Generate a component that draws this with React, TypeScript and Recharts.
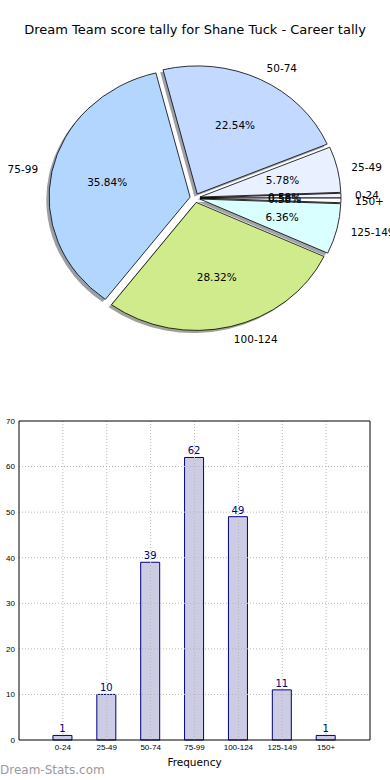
import React from 'react';
import {
  PieChart, Pie, Cell, BarChart, Bar, XAxis, YAxis, ReferenceLine, LabelList,
} from 'recharts';

const categories = ['0-24', '25-49', '50-74', '75-99', '100-124', '125-149', '150+'];
const counts = [1, 10, 39, 62, 49, 11, 1];
const sliceColors = ['#f2f2ff', '#e9f0ff', '#c4d9ff', '#b3d6ff', '#d0eb8c', '#d9ffff', '#ffffff'];
const positions = [1, 2, 3, 4, 5, 6, 7];
const yTicks = [0, 10, 20, 30, 40, 50, 60, 70];
const gridY = [10, 20, 30, 40, 50, 60];

const title = 'Dream Team score tally for Shane Tuck - Career tally';

const pieData = categories.map((name, i) => ({ name, value: counts[i], color: sliceColors[i] }));
const barData = categories.map((name, i) => ({ name, pos: positions[i], count: counts[i] }));

const RY = 0.908;
const EXPLODE = 5;
const RAD = Math.PI / 180;
const PIE_FONT = '"DejaVu Sans", sans-serif';

function wedgePath(p: any, shiftX: number, shiftY: number) {
  const { cx, cy, outerRadius, startAngle, endAngle } = p;
  const mid = (startAngle + endAngle) / 2;
  const ox = EXPLODE * Math.cos(mid * RAD) + shiftX;
  const oy = -EXPLODE * RY * Math.sin(mid * RAD) + shiftY;
  const r = outerRadius;
  const pt = (a: number) => [cx + ox + r * Math.cos(a * RAD), cy + oy - r * RY * Math.sin(a * RAD)];
  const [sx, sy] = pt(startAngle);
  const [ex, ey] = pt(endAngle);
  const large = Math.abs(endAngle - startAngle) > 180 ? 1 : 0;
  return `M${cx + ox},${cy + oy} L${sx},${sy} A${r},${r * RY} 0 ${large} 0 ${ex},${ey} Z`;
}

function darken(hex: string) {
  const n = parseInt(hex.slice(1), 16);
  const r = Math.round(((n >> 16) & 255) * 0.3);
  const g = Math.round(((n >> 8) & 255) * 0.3);
  const b = Math.round((n & 255) * 0.3);
  return `rgb(${r},${g},${b})`;
}

const ShadowShape = (p: any) => {
  const color = (p.payload && p.payload.color) || '#cccccc';
  return <path d={wedgePath(p, -2.8, 2.6)} fill={darken(color)} fillOpacity={0.5} stroke="none" />;
};

const WedgeShape = (p: any) => {
  const color = (p.payload && p.payload.color) || p.fill;
  return <path d={wedgePath(p, 0, 0)} fill={color} stroke="#000" strokeWidth={0.8} />;
};

const renderPieLabel = (p: any) => {
  const { cx, cy, outerRadius, midAngle, percent, name } = p;
  const r = outerRadius;
  const c = Math.cos(midAngle * RAD);
  const s = Math.sin(midAngle * RAD);
  const ox = EXPLODE * c;
  const oy = -EXPLODE * RY * s;
  const lx = cx + ox + 1.1 * r * c;
  const ly = cy + oy - 1.1 * r * RY * s;
  const px = cx + ox + 0.6 * r * c;
  const py = cy + oy - 0.6 * r * RY * s;
  return (
    <g>
      <text x={lx} y={ly} textAnchor={c > 0 ? 'start' : 'end'} dominantBaseline="central"
        fontSize={10.5} fontFamily={PIE_FONT} fill="#000">{name}</text>
      <text x={px} y={py} textAnchor="middle" dominantBaseline="central"
        fontSize={10.5} fontFamily={PIE_FONT} fill="#000">{(percent * 100).toFixed(2) + '%'}</text>
    </g>
  );
};

const SMALL_FONT = '"Liberation Sans Narrow", "Liberation Sans", sans-serif';

export default function App() {
  return (
    <div style={{ position: 'absolute', left: 0, top: 0, width: 390, height: 780, background: '#fff' }}>
      <div style={{
        position: 'absolute', left: 0, top: 21, width: 390, textAlign: 'center',
        fontFamily: PIE_FONT, fontSize: 13, color: '#000', lineHeight: '18px',
      }}>{title}</div>
      <div style={{ position: 'absolute', left: 0, top: 0 }}>
        <PieChart width={390} height={400} margin={{ top: 0, right: 0, bottom: 0, left: 0 }}>
          <Pie data={pieData} dataKey="value" nameKey="name" cx={195} cy={198} outerRadius={141}
            startAngle={0} endAngle={360} isAnimationActive={false} shape={ShadowShape}
            stroke="none" labelLine={false}>
            {pieData.map((d, i) => <Cell key={i} fill={d.color} />)}
          </Pie>
          <Pie data={pieData} dataKey="value" nameKey="name" cx={195} cy={198} outerRadius={141}
            startAngle={0} endAngle={360} isAnimationActive={false} shape={WedgeShape}
            labelLine={false} label={renderPieLabel}>
            {pieData.map((d, i) => <Cell key={i} fill={d.color} />)}
          </Pie>
        </PieChart>
      </div>
      <div style={{ position: 'absolute', left: 0, top: 410 }}>
        <BarChart width={390} height={370} data={barData}
          margin={{ top: 11, right: 20, bottom: 0, left: 0 }}>
          <XAxis dataKey="pos" type="number" domain={[0, 8]} ticks={positions} allowDecimals={false}
            tickFormatter={(v: number) => categories[v - 1] || ''} height={40}
            tickLine={false} tickSize={2} tickMargin={2} axisLine={{ stroke: '#000', strokeWidth: 1 }}
            tick={{ fontSize: 8, fontFamily: SMALL_FONT, fill: '#000' }}
            label={{ value: 'Frequency', position: 'insideBottom', offset: 14, fontSize: 10.5, fontFamily: PIE_FONT, fill: '#000' }} />
          <YAxis type="number" domain={[0, 70]} ticks={yTicks} width={19}
            tickLine={false} tickSize={2} tickMargin={2} axisLine={{ stroke: '#000', strokeWidth: 1 }}
            tick={{ fontSize: 8, fontFamily: SMALL_FONT, fill: '#000' }} />
          <Bar dataKey="count" barSize={19} fill="#ccccE5" stroke="#000080" strokeWidth={1}
            isAnimationActive={false}>
            <LabelList dataKey="count" position="top" offset={3} fill="#000080" fontSize={10}
              fontFamily={PIE_FONT} />
          </Bar>
          {gridY.map((v) => (
            <ReferenceLine key={'gy' + v} y={v} stroke="#b8b8b8" strokeDasharray="1 2" strokeWidth={1} />
          ))}
          {positions.map((v) => (
            <ReferenceLine key={'gx' + v} x={v} stroke="#b8b8b8" strokeDasharray="1 2" strokeWidth={1} />
          ))}
          <ReferenceLine y={70} stroke="#000" strokeWidth={1} />
          <ReferenceLine x={8} stroke="#000" strokeWidth={1} />
        </BarChart>
      </div>
      <div style={{
        position: 'absolute', left: 0, top: 762, fontFamily: PIE_FONT, fontSize: 12,
        color: '#9a9a9a', lineHeight: '16px',
      }}>Dream-Stats.com</div>
    </div>
  );
}
